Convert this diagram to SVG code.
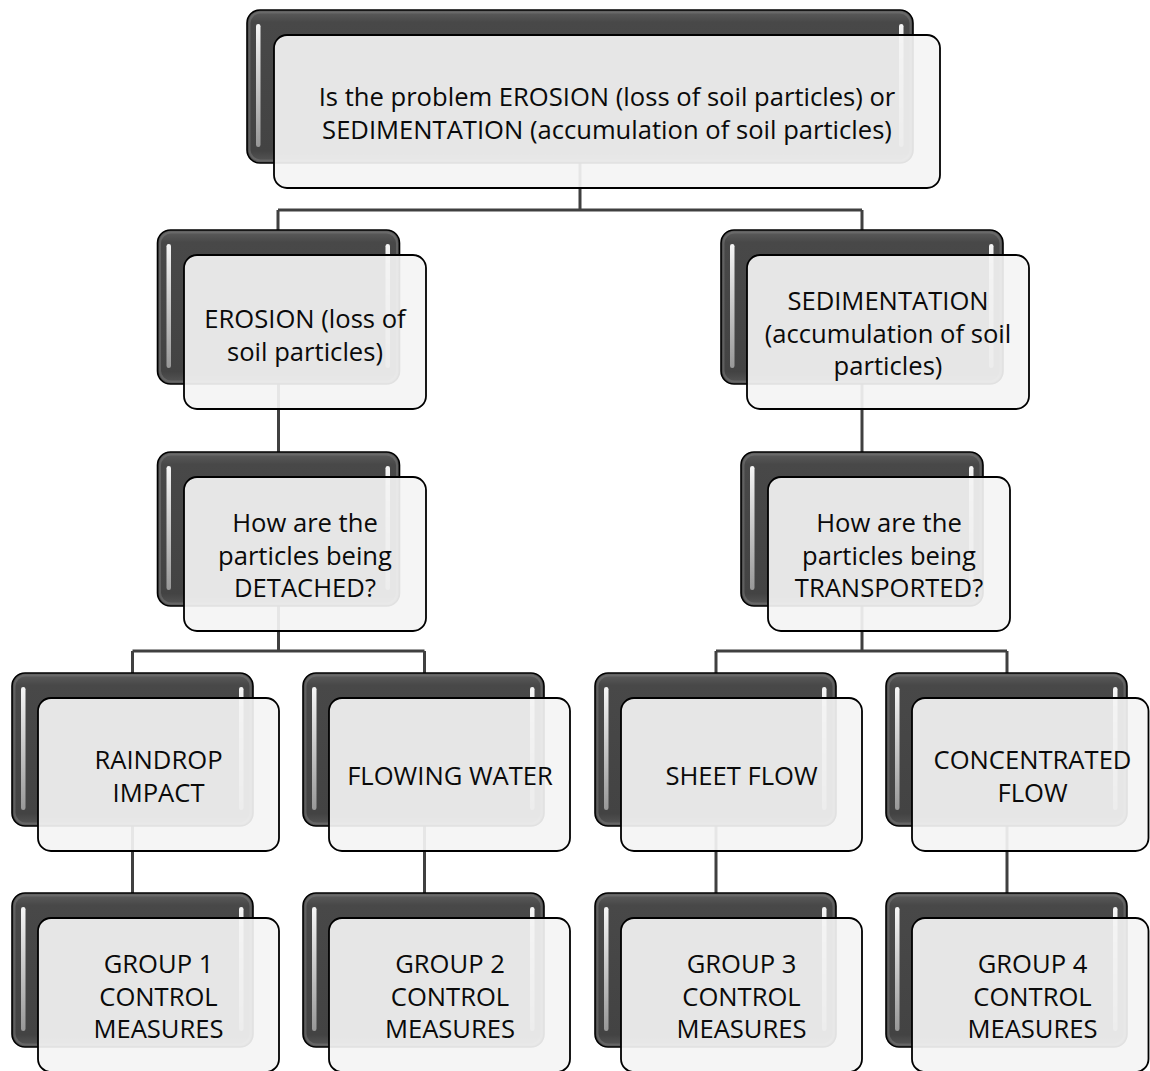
<svg xmlns="http://www.w3.org/2000/svg" width="1150" height="1071" viewBox="0 0 1150 1071">
  <defs>
    <linearGradient id="backGrad" x1="0" y1="0" x2="0" y2="1">
      <stop offset="0" stop-color="#5e5e5e"/>
      <stop offset="0.08" stop-color="#484848"/>
      <stop offset="0.92" stop-color="#434343"/>
      <stop offset="1" stop-color="#575757"/>
    </linearGradient>
    <linearGradient id="barGrad" x1="0" y1="0" x2="0" y2="1">
      <stop offset="0" stop-color="#ffffff" stop-opacity="0.95"/>
      <stop offset="0.5" stop-color="#ffffff" stop-opacity="0.7"/>
      <stop offset="1" stop-color="#ffffff" stop-opacity="0.45"/>
    </linearGradient>
  </defs>
  <style>
    .back { fill: url(#backGrad); stroke: #000000; stroke-width: 1.6; }
    .bevel { fill: none; stroke: #7a7a7a; stroke-width: 2; stroke-opacity: 0.5; }
    .bar { fill: url(#barGrad); }
    .front { fill: #f4f4f4; fill-opacity: 0.92; stroke: #000000; stroke-width: 1.8; }
    .conn { fill: none; stroke: #404040; stroke-width: 3; }
    text { font-family: "Open Sans", "Liberation Sans", sans-serif; font-size: 25.6px; fill: #0a0a0a; text-anchor: middle; }
  </style>
  <rect width="1150" height="1071" fill="#ffffff"/>

  <g id="connectors">
    <path class="conn" d="M580 163 V210 M278 210 H862 M278 210 V230 M862 210 V230"/>
    <path class="conn" d="M278.5 384 V452"/>
    <path class="conn" d="M862 384 V452"/>
    <path class="conn" d="M278.5 606 V651 M132.5 651 H424.5 M132.5 651 V673 M424.5 651 V673"/>
    <path class="conn" d="M862 606 V651 M716 651 H1007 M716 651 V673 M1007 651 V673"/>
    <path class="conn" d="M132.5 826 V893 M424.5 826 V893 M716 826 V893 M1007 826 V893"/>
  </g>

  <g id="node-root">
    <rect class="back" x="247" y="10" width="666" height="153" rx="13"/>
    <rect class="bevel" x="249.5" y="12.5" width="661" height="148" rx="11"/>
    <rect class="bar" x="256" y="24" width="4.5" height="123" rx="2.2"/>
    <rect class="bar" x="899" y="24" width="4.5" height="123" rx="2.2"/>
    <rect class="front" x="274" y="35" width="666" height="153" rx="13"/>
    <text x="607" y="106">Is the problem EROSION (loss of soil particles) or</text>
    <text x="607" y="138.5">SEDIMENTATION (accumulation of soil particles)</text>
  </g>

  <g id="node-erosion">
    <rect class="back" x="157.5" y="230" width="242" height="154" rx="13"/>
    <rect class="bevel" x="160" y="232.5" width="237" height="149" rx="11"/>
    <rect class="bar" x="166.5" y="244" width="4.5" height="124" rx="2.2"/>
    <rect class="bar" x="385.5" y="244" width="4.5" height="124" rx="2.2"/>
    <rect class="front" x="184" y="255" width="242" height="154" rx="13"/>
    <text x="305" y="328">EROSION (loss of</text>
    <text x="305" y="360.5">soil particles)</text>
  </g>

  <g id="node-sedimentation">
    <rect class="back" x="721" y="230" width="282" height="154" rx="13"/>
    <rect class="bevel" x="723.5" y="232.5" width="277" height="149" rx="11"/>
    <rect class="bar" x="730" y="244" width="4.5" height="124" rx="2.2"/>
    <rect class="bar" x="989" y="244" width="4.5" height="124" rx="2.2"/>
    <rect class="front" x="747" y="255" width="282" height="154" rx="13"/>
    <text x="888" y="310">SEDIMENTATION</text>
    <text x="888" y="342.5">(accumulation of soil</text>
    <text x="888" y="375">particles)</text>
  </g>

  <g id="node-detached">
    <rect class="back" x="157.5" y="452" width="242" height="154" rx="13"/>
    <rect class="bevel" x="160" y="454.5" width="237" height="149" rx="11"/>
    <rect class="bar" x="166.5" y="466" width="4.5" height="124" rx="2.2"/>
    <rect class="bar" x="385.5" y="466" width="4.5" height="124" rx="2.2"/>
    <rect class="front" x="184" y="477" width="242" height="154" rx="13"/>
    <text x="305" y="532">How are the</text>
    <text x="305" y="564.5">particles being</text>
    <text x="305" y="597">DETACHED?</text>
  </g>

  <g id="node-transported">
    <rect class="back" x="741" y="452" width="242" height="154" rx="13"/>
    <rect class="bevel" x="743.5" y="454.5" width="237" height="149" rx="11"/>
    <rect class="bar" x="750" y="466" width="4.5" height="124" rx="2.2"/>
    <rect class="bar" x="969" y="466" width="4.5" height="124" rx="2.2"/>
    <rect class="front" x="768" y="477" width="242" height="154" rx="13"/>
    <text x="889" y="532">How are the</text>
    <text x="889" y="564.5">particles being</text>
    <text x="889" y="597">TRANSPORTED?</text>
  </g>

  <g id="node-raindrop">
    <rect class="back" x="12" y="673" width="241" height="153" rx="13"/>
    <rect class="bevel" x="14.5" y="675.5" width="236" height="148" rx="11"/>
    <rect class="bar" x="21" y="687" width="4.5" height="123" rx="2.2"/>
    <rect class="bar" x="239" y="687" width="4.5" height="123" rx="2.2"/>
    <rect class="front" x="38" y="698" width="241" height="153" rx="13"/>
    <text x="158.5" y="769">RAINDROP</text>
    <text x="158.5" y="801.5">IMPACT</text>
  </g>

  <g id="node-flowing">
    <rect class="back" x="303" y="673" width="241" height="153" rx="13"/>
    <rect class="bevel" x="305.5" y="675.5" width="236" height="148" rx="11"/>
    <rect class="bar" x="312" y="687" width="4.5" height="123" rx="2.2"/>
    <rect class="bar" x="530" y="687" width="4.5" height="123" rx="2.2"/>
    <rect class="front" x="329" y="698" width="241" height="153" rx="13"/>
    <text x="450" y="785">FLOWING WATER</text>
  </g>

  <g id="node-sheet">
    <rect class="back" x="595" y="673" width="241" height="153" rx="13"/>
    <rect class="bevel" x="597.5" y="675.5" width="236" height="148" rx="11"/>
    <rect class="bar" x="604" y="687" width="4.5" height="123" rx="2.2"/>
    <rect class="bar" x="822" y="687" width="4.5" height="123" rx="2.2"/>
    <rect class="front" x="621" y="698" width="241" height="153" rx="13"/>
    <text x="741.5" y="785">SHEET FLOW</text>
  </g>

  <g id="node-concentrated">
    <rect class="back" x="886" y="673" width="241" height="153" rx="13"/>
    <rect class="bevel" x="888.5" y="675.5" width="236" height="148" rx="11"/>
    <rect class="bar" x="895" y="687" width="4.5" height="123" rx="2.2"/>
    <rect class="bar" x="1113" y="687" width="4.5" height="123" rx="2.2"/>
    <rect class="front" x="912" y="698" width="236.5" height="153" rx="13"/>
    <text x="1032.5" y="769">CONCENTRATED</text>
    <text x="1032.5" y="801.5">FLOW</text>
  </g>

  <g id="node-group1">
    <rect class="back" x="12" y="893" width="241" height="154" rx="13"/>
    <rect class="bevel" x="14.5" y="895.5" width="236" height="149" rx="11"/>
    <rect class="bar" x="21" y="907" width="4.5" height="124" rx="2.2"/>
    <rect class="bar" x="239" y="907" width="4.5" height="124" rx="2.2"/>
    <rect class="front" x="38" y="918" width="241" height="154" rx="13"/>
    <text x="158.5" y="973">GROUP 1</text>
    <text x="158.5" y="1005.5">CONTROL</text>
    <text x="158.5" y="1038">MEASURES</text>
  </g>

  <g id="node-group2">
    <rect class="back" x="303" y="893" width="241" height="154" rx="13"/>
    <rect class="bevel" x="305.5" y="895.5" width="236" height="149" rx="11"/>
    <rect class="bar" x="312" y="907" width="4.5" height="124" rx="2.2"/>
    <rect class="bar" x="530" y="907" width="4.5" height="124" rx="2.2"/>
    <rect class="front" x="329" y="918" width="241" height="154" rx="13"/>
    <text x="450" y="973">GROUP 2</text>
    <text x="450" y="1005.5">CONTROL</text>
    <text x="450" y="1038">MEASURES</text>
  </g>

  <g id="node-group3">
    <rect class="back" x="595" y="893" width="241" height="154" rx="13"/>
    <rect class="bevel" x="597.5" y="895.5" width="236" height="149" rx="11"/>
    <rect class="bar" x="604" y="907" width="4.5" height="124" rx="2.2"/>
    <rect class="bar" x="822" y="907" width="4.5" height="124" rx="2.2"/>
    <rect class="front" x="621" y="918" width="241" height="154" rx="13"/>
    <text x="741.5" y="973">GROUP 3</text>
    <text x="741.5" y="1005.5">CONTROL</text>
    <text x="741.5" y="1038">MEASURES</text>
  </g>

  <g id="node-group4">
    <rect class="back" x="886" y="893" width="241" height="154" rx="13"/>
    <rect class="bevel" x="888.5" y="895.5" width="236" height="149" rx="11"/>
    <rect class="bar" x="895" y="907" width="4.5" height="124" rx="2.2"/>
    <rect class="bar" x="1113" y="907" width="4.5" height="124" rx="2.2"/>
    <rect class="front" x="912" y="918" width="236.5" height="154" rx="13"/>
    <text x="1032.5" y="973">GROUP 4</text>
    <text x="1032.5" y="1005.5">CONTROL</text>
    <text x="1032.5" y="1038">MEASURES</text>
  </g>
</svg>
